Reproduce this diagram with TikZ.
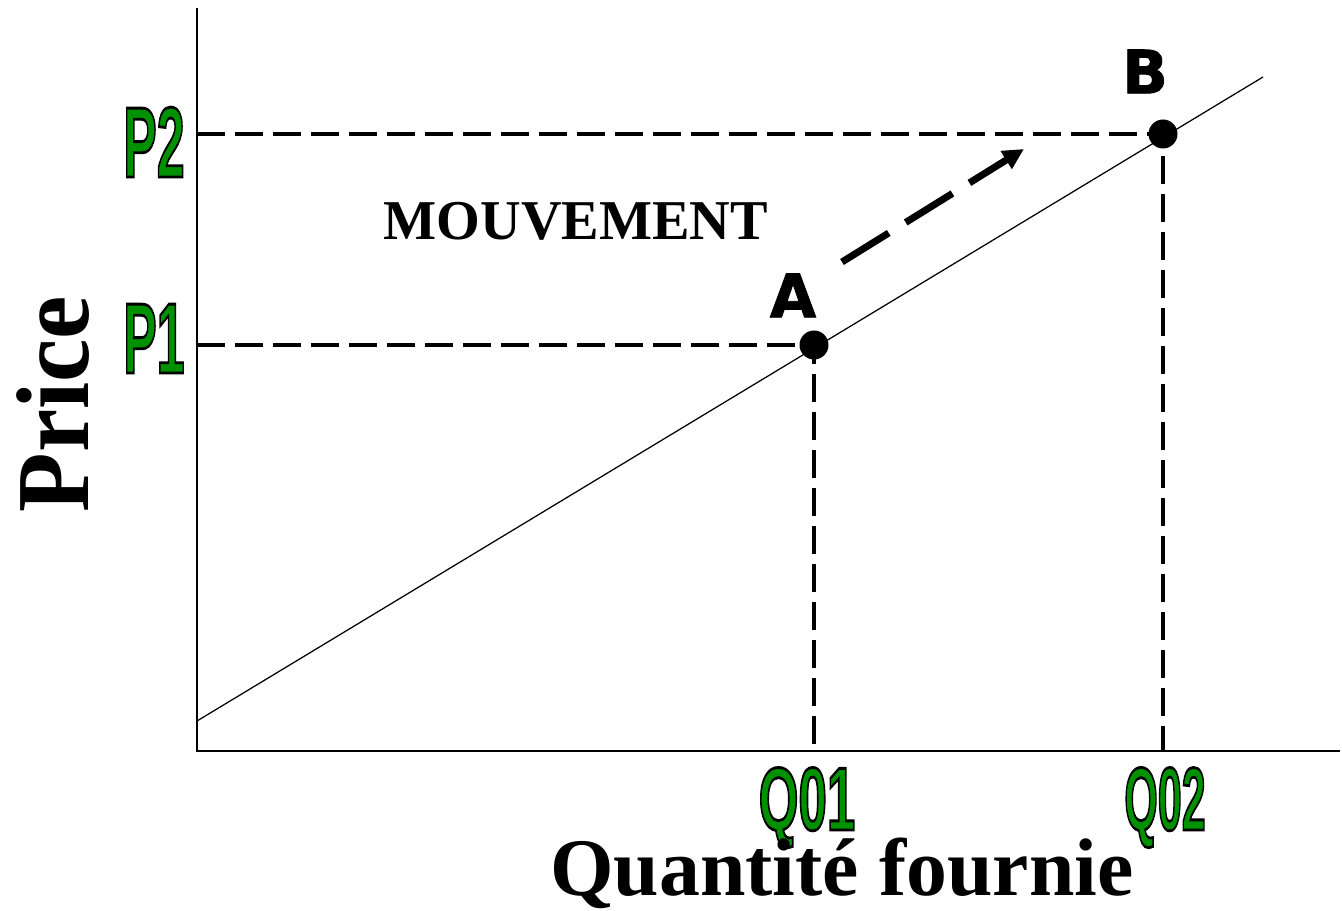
\documentclass[tikz,border=0pt]{standalone}
\usepackage{fontspec}
\setmainfont{Liberation Serif}
\newfontfamily\valfont{Liberation Sans}
\newfontfamily\lettrefont[FakeBold=1.6]{DejaVu Sans}
\usetikzlibrary{arrows.meta}
\definecolor{vert}{RGB}{0,145,0}
\newcommand{\valeur}[2]{\scalebox{#1}[1]{\color{vert}%
  \special{pdf:literal direct 0 0 0 RG 1.6 w 2 Tr}#2\special{pdf:literal direct 0 Tr}}}

\begin{document}
\begin{tikzpicture}[x=0.02cm, y=-0.02cm,
    axe/.style={line width=0.4mm},
    offre/.style={line width=0.25mm},
    repere/.style={line width=0.65mm, dash pattern=on 5.6mm off 2mm},
    point/.style={circle, fill=black, inner sep=0pt, minimum size=5.8mm},
    lettre/.style={font=\lettrefont\bfseries\fontsize{34}{34}\selectfont},
    val/.style={font=\valfont\bfseries\fontsize{57}{57}\selectfont, anchor=base, inner sep=0pt},
    titre/.style={font=\bfseries\fontsize{46.5}{46.5}\selectfont, anchor=base, inner sep=0pt},
    fleche/.style={line width=1.4mm, dash pattern=on 11mm off 4mm,
      -{Triangle[length=4.2mm, width=4mm]}}]
  \useasboundingbox (0,0) rectangle (1342,911);
  \coordinate (o)  at (197,751);
  \coordinate (yh) at (197,8);
  \coordinate (xh) at (1340,751);
  \coordinate (s0) at (197,721);
  \coordinate (s1) at (1263,77);
  \coordinate (a)  at (814,345);
  \coordinate (b)  at (1163,134);
  \coordinate (p1) at (197,345);
  \coordinate (p2) at (197,134);
  \coordinate (q1) at (814,751);
  \coordinate (q2) at (1163,751);
  \coordinate (m0) at (842,262);
  \coordinate (m1) at (1024,149);
  \draw[axe] (yh) -- (o) -- (xh);
  \draw[offre] (s0) -- (s1);
  \draw[repere] (p1) -- (a) -- (q1);
  \draw[repere] (p2) -- (b) -- (q2);
  \draw[fleche] (m0) -- (m1);
  \node[point] (A) at (a) {};
  \node[point] (B) at (b) {};
  \node[lettre] (lA) at (793,295.5) {A};
  \node[lettre] (lB) at (1145,71.5) {B};
  \node[val] (P2) at (154,177) {\valeur{0.5}{P2}};
  \node[val] (P1) at (154,373) {\valeur{0.5}{P1}};
  \node[val, font=\valfont\bfseries\fontsize{51}{51}\selectfont] (Q1) at (807,830) {\valeur{0.57}{Q01}};
  \node[val, font=\valfont\bfseries\fontsize{51}{51}\selectfont] (Q2) at (1165,830) {\valeur{0.48}{Q02}};
  \node[titre, rotate=90, font=\bfseries\fontsize{59}{59}\selectfont] (prix) at (88,404) {\scalebox{0.94}[1]{Price}};
  \node[titre] (quant) at (842,895) {Quantité fournie};
  \node[titre, font=\bfseries\fontsize{32}{32}\selectfont] (mouv) at (576,240) {MOUVEMENT};
\end{tikzpicture}
\end{document}
